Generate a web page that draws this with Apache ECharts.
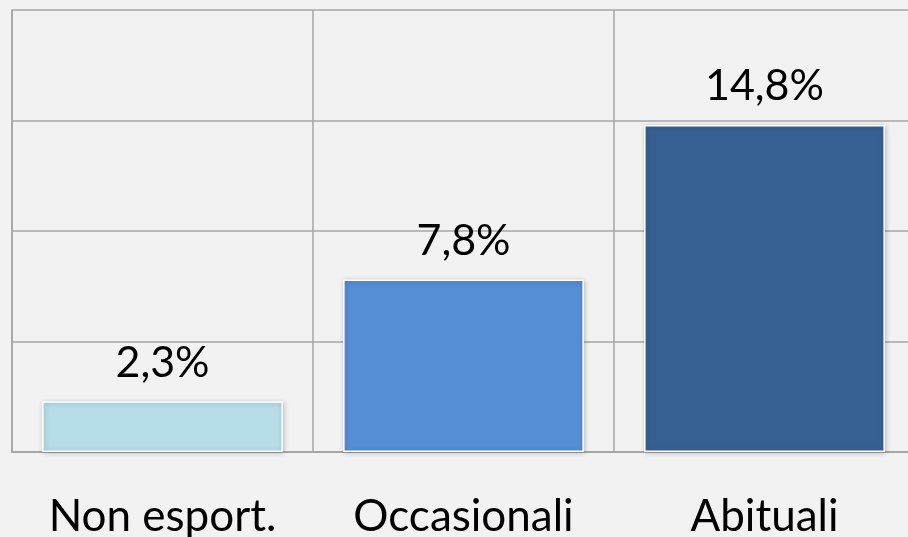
<!DOCTYPE html>
<html>
<head>
<meta charset="utf-8">
<script src="https://cdn.jsdelivr.net/npm/echarts@6/dist/echarts.min.js"></script>
<style>html,body{margin:0;padding:0;background:#f2f2f2;}#c{width:908px;height:537px;}</style>
</head>
<body>
<div id="c"></div>
<script>
const categories = ["Non esport.", "Occasionali", "Abituali"];
const values = [2.3, 7.8, 14.8];
const barColors = ["#b7dde8", "#558ed5", "#376092"];
const yTicks = [0, 5, 10, 15, 20];

const chart = echarts.init(document.getElementById('c'));
chart.setOption({
  backgroundColor: '#f2f2f2',
  animation: false,
  grid: { left: 12, width: 903, top: 10, height: 442, containLabel: false, outerBoundsMode: 'none' },
  xAxis: {
    type: 'category',
    data: categories,
    axisLine: { show: true, lineStyle: { color: '#a6a6a6', width: 2 } },
    axisTick: { show: false },
    splitLine: { show: true, lineStyle: { color: '#a6a6a6', width: 1.5 } },
    axisLabel: { color: '#000', fontFamily: 'Lato', fontSize: 44, margin: 43, interval: 0 }
  },
  yAxis: {
    type: 'value',
    min: yTicks[0], max: yTicks[yTicks.length - 1], interval: 5,
    axisLine: { show: true, lineStyle: { color: '#a6a6a6', width: 1.5 } },
    axisTick: { show: false },
    axisLabel: { show: false },
    splitLine: { show: true, lineStyle: { color: '#a6a6a6', width: 1.5 } }
  },
  series: [{
    type: 'bar',
    barCategoryGap: '20%',
    data: values.map((v, i) => ({
      value: v,
      itemStyle: { color: barColors[i] }
    })),
    itemStyle: {
      borderColor: '#ffffff', borderWidth: 1.5,
      shadowColor: 'rgba(0,0,0,0.25)', shadowBlur: 5, shadowOffsetX: 1, shadowOffsetY: 1
    },
    label: {
      show: true, position: 'top', distance: 17,
      color: '#000', fontFamily: 'Lato', fontSize: 43,
      formatter: p => String(p.value).replace('.', ',') + '%'
    }
  }]
});
</script>
</body>
</html>
